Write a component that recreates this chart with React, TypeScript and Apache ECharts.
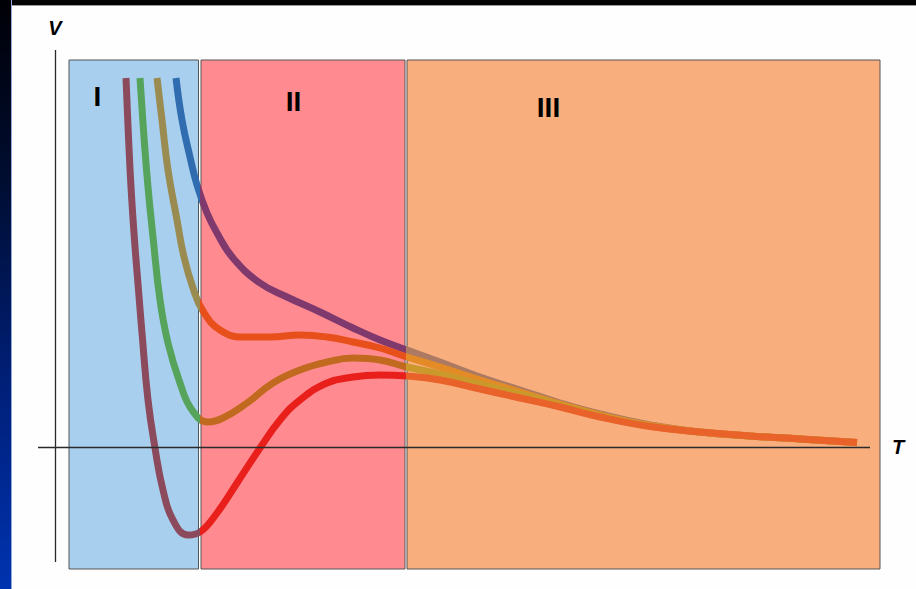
import React, { useEffect, useRef } from "react";
import * as echarts from "echarts";

// Distance T along the x axis, potential V along the y axis (arbitrary units)
const curveBlue: [number, number][] = [
  [12.1, 36.9], [12.7, 32.7], [13.5, 29.0], [14.2, 26.2], [15.2, 23.4], [16.2, 21.4],
  [17.8, 18.9], [20.5, 16.4], [23.2, 15.0], [26.5, 13.5], [29.8, 11.9], [32.5, 10.7],
  [35.2, 9.7], [38.5, 8.5], [42.5, 7.0], [46.5, 5.7], [50.5, 4.4], [54.5, 3.3],
  [59.5, 2.2], [64.5, 1.5], [69.5, 1.1], [74.5, 0.8], [80.2, 0.45],
];
const curveOrange: [number, number][] = [
  [10.2, 36.9], [10.7, 32.7], [11.3, 27.7], [12.2, 22.7], [12.9, 19.0], [13.8, 15.9],
  [14.8, 13.6], [16.5, 11.7], [18.8, 11.0], [21.5, 11.0], [24.5, 11.2], [27.2, 11.0],
  [29.8, 10.5], [32.5, 9.9], [35.2, 9.0], [38.5, 8.0], [42.5, 6.7], [46.5, 5.5],
  [50.5, 4.3], [54.5, 3.2], [59.5, 2.15], [64.5, 1.5], [69.5, 1.1], [74.5, 0.8],
  [80.2, 0.45],
];
const curveGreen: [number, number][] = [
  [8.5, 36.9], [8.9, 31.0], [9.3, 26.0], [9.8, 21.0], [10.5, 14.7], [11.3, 10.4],
  [12.5, 6.4], [13.7, 3.7], [15.3, 2.5], [16.8, 2.9], [19.2, 4.4], [21.8, 6.4],
  [24.5, 7.7], [27.2, 8.5], [29.8, 8.9], [32.5, 8.7], [35.2, 8.0], [38.5, 7.3],
  [42.5, 6.3], [46.5, 5.3], [50.5, 4.2], [54.5, 3.1], [59.5, 2.1], [64.5, 1.5],
  [69.5, 1.1], [74.5, 0.8], [80.2, 0.45],
];
const curveRed: [number, number][] = [
  [7.1, 36.9], [7.35, 31.0], [7.6, 26.0], [7.95, 20.7], [8.35, 15.7], [8.7, 11.4],
  [9.3, 4.7], [10.0, -0.1], [10.8, -4.3], [11.8, -7.3], [13.3, -8.8], [14.5, -8.5],
  [16.2, -6.6], [18.2, -3.6], [20.5, -0.1], [22.5, 2.7], [24.5, 4.7], [27.2, 6.4],
  [29.8, 7.0], [32.5, 7.2], [35.2, 7.1], [38.5, 6.7], [42.5, 5.8], [46.5, 4.9],
  [50.5, 4.0], [54.5, 3.0], [59.5, 2.05], [64.5, 1.5], [69.5, 1.1], [74.5, 0.8],
  [80.2, 0.45],
];

// Regions: [label, T start, T end]
const regionNames = ["I", "II", "III"];
const regionStart = [1.4, 14.6, 35.2];
const regionEnd = [14.35, 35.0, 82.5];
const regionTop = 38.7;
const regionBottom = -12.2;
const regionColors = ["#a9cfee", "#ff8b90", "#f9ae7e"];
const regionLabelPos: [number, number][] = [[29, 37], [93, 42], [142, 48]];

// Where each curve's colour changes (region boundaries)
const colorBreaks = [14.5, 35.1];
const curves = [curveBlue, curveOrange, curveGreen, curveRed];
const curveColors = [
  ["#2f6db0", "#80396c", "#ac7a62"],
  ["#9a8b50", "#e8501b", "#e48a26"],
  ["#56a35b", "#c0691f", "#cb982b"],
  ["#8c4b5c", "#e81f1b", "#e8622a"],
];

// Axis extents
const xMin = -1.7;
const xMax = 82.5;
const yMin = -12.2;
const yMax = 39.7;
const vAxisLine: [number, number] = [-11.5, 39.7];
const tAxisLine: [number, number] = [-1.7, 81.5];

export default function App() {
  const ref = useRef<HTMLDivElement>(null);

  useEffect(() => {
    if (!ref.current) return;
    const chart = echarts.init(ref.current, undefined, { renderer: "svg" });

    const series: any[] = curves.map((data, i) => ({
      type: "line",
      data,
      smooth: 0.45,
      showSymbol: false,
      symbol: "none",
      clip: false,
      silent: true,
      lineStyle: { width: 7, cap: "butt", join: "round" },
      z: 3 + i,
    }));

    series[0].markArea = {
      silent: true,
      z: 1,
      data: regionNames.map((name, i) => [
        {
          name,
          xAxis: regionStart[i],
          yAxis: regionTop,
          itemStyle: { color: regionColors[i], borderColor: "#555", borderWidth: 1 },
          label: {
            show: true,
            position: regionLabelPos[i],
            align: "center",
            verticalAlign: "middle",
            color: "#000",
            fontSize: 28,
            fontWeight: "bold",
            fontFamily: "Liberation Sans, Arial, sans-serif",
          },
        },
        { xAxis: regionEnd[i], yAxis: regionBottom },
      ]),
    };

    series[3].markLine = {
      silent: true,
      symbol: "none",
      z: 10,
      label: { show: false },
      lineStyle: { color: "#2a2a2a", width: 1.3, type: "solid" },
      data: [
        [{ coord: [0, vAxisLine[0]] }, { coord: [0, vAxisLine[1]] }],
        [{ coord: [tAxisLine[0], 0] }, { coord: [tAxisLine[1], 0] }],
      ],
    };

    const visualMap = curveColors.map((c, i) => ({
      type: "piecewise",
      show: false,
      dimension: 0,
      seriesIndex: i,
      pieces: [
        { lt: colorBreaks[0], color: c[0] },
        { gte: colorBreaks[0], lt: colorBreaks[1], color: c[1] },
        { gte: colorBreaks[1], color: c[2] },
      ],
    }));

    const nameStyle = {
      color: "#000",
      fontSize: 20,
      fontWeight: "bold",
      fontStyle: "italic",
      fontFamily: "Liberation Sans, Arial, sans-serif",
    };

    chart.setOption({
      animation: false,
      backgroundColor: "transparent",
      grid: { left: 38, right: 36, top: 50, bottom: 20 },
      xAxis: {
        type: "value",
        min: xMin,
        max: xMax,
        name: "T",
        nameLocation: "end",
        nameGap: 12,
        nameTextStyle: { ...nameStyle, align: "left", verticalAlign: "middle" },
        axisLine: { show: false, onZero: true },
        axisTick: { show: false },
        axisLabel: { show: false },
        splitLine: { show: false },
      },
      yAxis: {
        type: "value",
        min: yMin,
        max: yMax,
        name: "V",
        nameLocation: "end",
        nameGap: 12,
        nameTextStyle: { ...nameStyle, align: "center" },
        axisLine: { show: false, onZero: true },
        axisTick: { show: false },
        axisLabel: { show: false },
        splitLine: { show: false },
      },
      visualMap,
      series,
    });

    return () => chart.dispose();
  }, []);

  return (
    <div
      style={{
        position: "fixed",
        left: 0,
        top: 0,
        width: 916,
        height: 589,
        background: "#fdfefd",
        overflow: "hidden",
      }}
    >
      <div
        style={{
          position: "absolute",
          left: 0,
          top: 0,
          width: 916,
          height: 5,
          background: "#030303",
          borderBottom: "1px solid #9a9a9a",
        }}
      />
      <div
        style={{
          position: "absolute",
          left: 0,
          top: 0,
          width: 11,
          height: 589,
          background: "linear-gradient(to bottom, #000006 0%, #000d30 30%, #001f78 65%, #0033b0 100%)",
          borderRight: "1px solid #8fa8d8",
        }}
      />
      <div ref={ref} style={{ position: "absolute", left: 0, top: 0, width: 916, height: 589 }} />
    </div>
  );
}
